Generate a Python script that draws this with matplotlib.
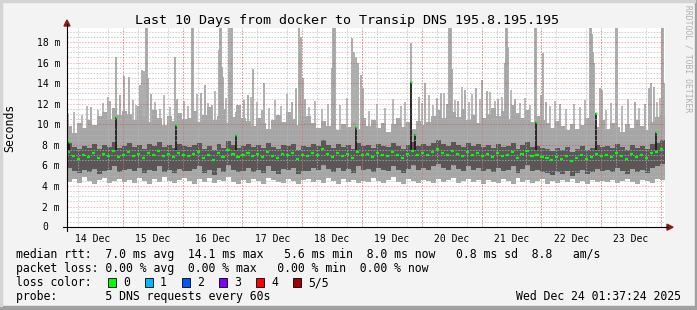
import numpy as np
import matplotlib
matplotlib.use("Agg")
import matplotlib.pyplot as plt
import matplotlib.dates as mdates
from matplotlib.patches import Rectangle, Polygon
from matplotlib.lines import Line2D

W, H = 697, 310
MONO = "DejaVu Sans Mono"

start = np.datetime64("2025-12-14T01:37:24")
end = np.datetime64("2025-12-24T01:37:24")

# smoke bands in ms, one value per 2 hours (12 per day)
lo = [4.4, 4.7, 4.3, 4.9, 4.5, 4.2, 4.6, 4.8, 4.3, 4.5, 4.7, 4.4,
      4.6, 4.3, 4.8, 4.5, 4.2, 4.7, 4.4, 4.9, 4.5, 4.3, 4.6, 4.8,
      4.5, 4.2, 4.7, 4.4, 4.8, 4.3, 4.6, 4.5, 4.9, 4.4, 4.2, 4.6,
      4.3, 4.7, 4.5, 4.2, 4.8, 4.6, 4.4, 4.3, 4.7, 4.5, 4.2, 4.6,
      4.7, 4.4, 4.6, 4.3, 4.8, 4.5, 4.2, 4.7, 4.4, 4.6, 4.3, 4.5,
      4.4, 4.8, 4.5, 4.3, 4.6, 4.9, 4.4, 4.2, 4.7, 4.5, 4.3, 4.6,
      4.5, 4.3, 4.7, 4.4, 4.6, 4.8, 4.3, 4.5, 4.7, 4.4, 4.6, 4.2,
      4.6, 4.4, 4.3, 4.7, 4.5, 4.2, 4.8, 4.4, 4.6, 4.3, 4.5, 4.7,
      4.2, 4.5, 4.3, 4.6, 4.4, 4.7, 4.3, 4.5, 4.2, 4.6, 4.4, 4.5,
      4.4, 4.6, 4.3, 4.5, 4.7, 4.4, 4.2, 4.6, 4.5, 4.3, 4.7, 4.6]
dark_lo = [5.8, 5.5, 5.3, 5.6, 5.4, 5.7, 5.2, 5.5, 5.6, 5.9, 5.4, 5.6,
           5.7, 5.5, 5.8, 5.3, 5.6, 5.5, 5.9, 5.4, 5.6, 5.3, 5.7, 5.5,
           5.5, 5.7, 5.9, 5.3, 5.6, 5.1, 5.8, 5.4, 6.0, 5.6, 5.4, 5.5,
           5.8, 5.4, 5.6, 5.3, 5.9, 5.5, 5.2, 5.7, 5.6, 5.8, 5.2, 5.5,
           5.5, 5.8, 5.6, 6.0, 5.7, 5.4, 5.8, 5.5, 5.7, 5.3, 5.9, 5.6,
           5.7, 5.4, 5.8, 5.6, 5.5, 5.9, 5.6, 5.3, 5.7, 6.0, 5.6, 5.8,
           5.6, 5.9, 6.1, 5.8, 5.6, 6.0, 5.7, 5.5, 5.9, 5.6, 5.8, 5.5,
           5.7, 5.4, 5.8, 5.5, 5.6, 5.9, 5.3, 5.7, 6.0, 5.5, 5.6, 5.4,
           5.3, 5.1, 5.4, 5.2, 5.5, 5.0, 5.3, 5.6, 5.2, 5.4, 5.7, 5.5,
           5.6, 5.4, 5.8, 5.5, 5.2, 5.7, 5.4, 5.6, 5.3, 5.8, 5.9, 6.1]
median = [7.3, 6.9, 6.6, 7.0, 6.8, 7.2, 6.7, 7.1, 6.9, 7.4, 6.8, 7.0,
          7.3, 6.9, 7.1, 6.7, 7.2, 7.0, 7.4, 6.9, 7.1, 6.8, 7.2, 7.0,
          6.9, 7.1, 7.3, 6.7, 7.0, 6.5, 7.2, 6.8, 7.5, 7.1, 6.8, 7.0,
          7.2, 6.9, 7.1, 6.8, 7.3, 6.9, 6.7, 7.1, 7.0, 7.2, 6.6, 7.0,
          6.9, 7.2, 7.0, 7.6, 7.1, 6.8, 7.2, 6.9, 7.1, 6.7, 7.3, 7.0,
          7.1, 6.8, 7.2, 7.0, 6.9, 7.3, 7.0, 6.7, 7.1, 7.4, 7.0, 7.2,
          7.0, 7.3, 7.6, 7.2, 7.0, 7.4, 7.1, 6.9, 7.3, 7.0, 7.2, 6.9,
          7.1, 6.8, 7.2, 6.9, 7.0, 7.3, 6.7, 7.1, 7.4, 6.9, 7.0, 6.8,
          6.7, 6.5, 6.8, 6.6, 6.9, 6.4, 6.7, 7.0, 6.6, 6.8, 7.1, 6.9,
          7.0, 6.8, 7.2, 6.9, 6.6, 7.1, 6.8, 7.0, 6.7, 7.2, 7.3, 7.6]
dark_hi = [8.2, 7.8, 7.6, 7.9, 7.7, 8.1, 7.6, 8.0, 7.8, 8.3, 7.7, 7.9,
           8.2, 7.8, 8.0, 7.6, 8.1, 7.9, 8.3, 7.8, 8.0, 7.7, 8.1, 7.9,
           7.8, 8.0, 8.2, 7.6, 7.9, 7.5, 8.1, 7.7, 8.4, 8.0, 7.7, 7.9,
           8.1, 7.8, 8.0, 7.7, 8.2, 7.8, 7.6, 8.0, 7.9, 8.1, 7.5, 7.9,
           7.8, 8.1, 7.9, 8.5, 8.0, 7.7, 8.1, 7.8, 8.0, 7.6, 8.2, 7.9,
           8.0, 7.7, 8.1, 7.9, 7.8, 8.2, 7.9, 7.6, 8.0, 8.3, 7.9, 8.1,
           7.9, 8.2, 8.5, 8.1, 7.9, 8.3, 8.0, 7.8, 8.2, 7.9, 8.1, 7.8,
           8.0, 7.7, 8.1, 7.8, 7.9, 8.2, 7.6, 8.0, 8.3, 7.8, 7.9, 7.7,
           7.6, 7.4, 7.7, 7.5, 7.8, 7.3, 7.6, 7.9, 7.5, 7.7, 8.0, 7.8,
           7.9, 7.7, 8.1, 7.8, 7.5, 8.0, 7.7, 7.9, 7.6, 8.1, 8.2, 8.5]
hi = [9.8, 9.2, 10.1, 9.6, 10.4, 9.9, 10.8, 11.2, 10.5, 11.6, 10.9, 11.3,
      11.0, 10.4, 11.8, 10.7, 10.2, 11.4, 10.6, 9.9, 10.8, 10.3, 11.1, 10.5,
      10.6, 11.3, 10.2, 10.9, 11.7, 10.4, 10.8, 11.5, 10.1, 10.7, 11.9, 10.6,
      10.3, 9.8, 10.6, 10.1, 9.5, 10.4, 10.9, 10.2, 11.2, 10.5, 9.9, 10.7,
      10.8, 10.1, 9.6, 10.3, 9.8, 10.5, 9.4, 10.0, 9.7, 10.2, 9.5, 10.6,
      9.8, 10.4, 9.6, 10.1, 9.3, 10.0, 10.6, 9.7, 10.2, 9.5, 10.3, 9.9,
      10.2, 10.8, 11.4, 10.6, 12.0, 11.2, 10.7, 11.5, 10.4, 10.9, 10.1, 10.6,
      11.0, 11.6, 10.8, 11.3, 10.5, 11.9, 11.1, 10.6, 11.4, 10.2, 10.8, 10.4,
      10.1, 9.6, 10.3, 9.8, 9.4, 10.0, 9.5, 9.9, 10.6, 10.2, 9.7, 10.4,
      9.5, 10.1, 9.7, 9.3, 10.0, 9.6, 10.4, 9.8, 9.4, 10.2, 10.7, 10.9]

# single tall smoke columns (days after start, top in ms)
spike_day = [0.017, 0.401, 0.686, 0.719, 0.819, 0.886, 0.953, 1.037, 1.221, 1.254,
             1.288, 1.321, 1.338, 1.355, 1.405, 1.806, 1.839, 2.090, 2.107, 2.241,
             2.308, 2.425, 2.542, 2.559, 2.575, 2.592, 2.609, 2.709, 2.726, 2.742,
             2.759, 2.826, 2.960, 3.027, 3.110, 3.261, 3.294, 3.763, 3.829, 3.880,
             3.896, 3.913, 3.946, 3.980, 4.431, 4.448, 4.465, 4.482, 4.766, 4.799,
             4.833, 4.866, 4.916, 4.950, 5.753, 5.886, 5.987, 6.187, 6.254, 6.388,
             6.405, 6.421, 6.438, 6.538, 6.656, 6.839, 6.940, 7.023, 7.207, 7.324,
             7.341, 7.358, 7.375, 7.492, 7.826, 7.843, 7.926, 7.960, 8.010, 8.244,
             8.746, 8.763, 8.779, 8.796, 8.813, 8.913, 8.946, 9.181, 9.197, 9.498,
             9.666, 9.732, 9.766, 9.816, 9.950, 9.967, 9.983]
spike_top = [11.1, 11.7, 12.7, 12.3, 16.5, 12.8, 14.7, 14.6, 13.8, 15.3,
             15.2, 19.4, 19.4, 14.5, 12.9, 16.5, 12.5, 19.4, 19.4, 13.0,
             13.8, 11.9, 17.2, 19.4, 19.4, 15.6, 14.6, 19.4, 15.1, 19.4,
             19.4, 11.2, 12.4, 12.8, 15.4, 11.4, 14.0, 12.2, 13.5, 19.4,
             17.0, 18.5, 14.5, 12.5, 15.5, 19.4, 19.4, 19.4, 18.4, 17.0,
             16.5, 16.0, 14.8, 13.5, 17.9, 12.7, 14.0, 12.6, 13.0, 19.4,
             19.4, 19.4, 15.4, 12.3, 13.3, 13.5, 14.3, 13.2, 12.5, 16.0,
             19.4, 19.4, 17.5, 12.5, 19.4, 19.4, 12.8, 16.9, 12.2, 12.0,
             19.4, 19.4, 18.8, 17.0, 16.0, 13.5, 13.3, 19.4, 19.4, 12.2,
             12.0, 13.5, 14.0, 13.6, 19.4, 19.4, 14.0]

# shorter smoke columns above the band
col_day = [0.12, 0.25, 0.33, 0.52, 0.60, 0.78, 1.10, 1.16, 1.47, 1.55, 1.63, 1.72,
           1.95, 2.02, 2.18, 2.36, 2.48, 2.66, 2.88, 3.08, 3.18, 3.38, 3.47, 3.58,
           3.68, 4.05, 4.15, 4.27, 4.36, 4.57, 4.68, 5.05, 5.18, 5.32, 5.45, 5.58,
           5.66, 5.93, 6.05, 6.12, 6.31, 6.48, 6.60, 6.72, 6.78, 6.90, 7.08, 7.15,
           7.28, 7.42, 7.58, 7.66, 7.74, 8.08, 8.16, 8.35, 8.47, 8.58, 8.66, 9.02,
           9.10, 9.28, 9.38, 9.57, 9.86, 9.91]
col_top = [11.2, 10.9, 11.8, 11.4, 12.1, 11.6, 12.4, 11.9, 12.2, 11.5, 12.8, 11.7,
           12.3, 11.8, 12.9, 12.1, 13.2, 12.6, 11.9, 12.7, 12.2, 11.6, 12.4, 11.8,
           12.9, 11.7, 12.3, 11.5, 12.0, 11.9, 12.6, 11.3, 12.0, 11.6, 12.5, 11.8,
           12.2, 12.1, 12.8, 11.9, 13.0, 12.4, 13.6, 12.2, 12.9, 12.5, 13.1, 12.3,
           12.7, 13.3, 12.1, 12.6, 11.9, 11.8, 12.3, 11.5, 12.0, 11.7, 12.4, 11.4,
           12.1, 11.8, 12.5, 11.6, 12.2, 12.6]

# dark columns where the median jumped up
dark_day = [0.033, 0.819, 1.823, 2.826, 4.833, 5.753, 5.819, 7.843, 8.846, 9.849]
dark_top = [8.3, 10.7, 9.9, 9.0, 9.7, 14.1, 9.1, 10.2, 11.1, 9.3]

y_major = [0, 2, 4, 6, 8, 10, 12, 14, 16, 18]
y_labels = ["", "2 m", "4 m", "6 m", "8 m", "10 m", "12 m", "14 m", "16 m", "18 m"]

loss_colors = ["#00ff00", "#00b8ff", "#0059ff", "#7e00ff", "#ff0000", "#a10000"]
loss_labels = ["0", "1", "2", "3", "4", "5/5"]

title = "Last 10 Days from docker to Transip DNS 195.8.195.195"
legend_lines = [
    "median rtt:  7.0 ms avg  14.1 ms max   5.6 ms min  8.0 ms now   0.8 ms sd  8.8   am/s",
    "packet loss: 0.00 % avg  0.00 % max   0.00 % min  0.00 % now",
    "loss color:",
    "probe:       5 DNS requests every 60s",
]
stamp = "Wed Dec 24 01:37:24 2025"


def fx(x):
    return x / W


def fy(y):
    return 1 - y / H


def edge(v):
    return np.append(v, v[-1])


def to_time(days):
    return start + (np.array(days) * 86400).astype("timedelta64[s]")


fig = plt.figure(figsize=(W / 100, H / 100), dpi=100)
fig.patch.set_facecolor("#f3f3f3")

x0, x1, ytop, y0 = 67, 665, 28, 227.2
ax = fig.add_axes([fx(x0), fy(y0), (x1 - x0) / W, (y0 - ytop) / H])
ax.set_facecolor("white")

t = start + np.arange(len(lo) + 1) * np.timedelta64(2, "h")

smoke = "#a6a6a6"
ax.fill_between(t, edge(lo), edge(hi), step="post", color=smoke, lw=0, zorder=1)
ax.vlines(to_time(col_day), 8, col_top, color=smoke, lw=1.1, zorder=1)
ax.vlines(to_time(spike_day), 8, spike_top, color=smoke, lw=1.3, zorder=1)
ax.fill_between(t, edge(dark_lo), edge(dark_hi), step="post", color="#585858", lw=0, zorder=1.2)
ax.vlines(to_time(dark_day), 7.5, dark_top, color="#1e1e1e", lw=1.3, zorder=1.3)

ax.hlines(median, t[:-1], t[:-1] + np.timedelta64(75, "m"), color="#00ff00", lw=1.6, zorder=3)
ax.plot(to_time(dark_day), dark_top, "s", ms=1.8, color="#00ff00", mec="none", zorder=3)

ax.set_xlim(start, end)
ax.set_ylim(0, 19.36)

# grid
ax.set_axisbelow(False)
noons = np.arange(np.datetime64("2025-12-14T12:00"), end, np.timedelta64(1, "D"))
ax.set_xticks(noons)
ax.xaxis.set_major_formatter(mdates.DateFormatter("%d %b"))
ax.xaxis.set_minor_locator(mdates.HourLocator(byhour=[0, 6, 12, 18]))
ax.set_yticks(y_major)
ax.set_yticklabels(y_labels)
ax.set_yticks(np.arange(0, 19.4, 0.5), minor=True)
ax.grid(which="minor", color="#b8b8b8", ls=(0, (1.5, 1.5)), lw=0.7, alpha=0.7, zorder=2.5)
ax.grid(which="major", axis="y", color="#ff0000", ls=(0, (1.5, 1.5)), lw=0.7, alpha=0.3, zorder=2.6)
ax.grid(which="major", axis="x", visible=False)
for d in mdates.DayLocator().tick_values(start.astype(object), end.astype(object)):
    ax.axvline(d, color="#ff0000", ls=(0, (1.5, 1.5)), lw=0.7, alpha=0.3, zorder=2.6)

ax.tick_params(which="both", length=0)
ax.tick_params(axis="x", pad=4.6, labelsize=7)
ax.tick_params(axis="y", pad=5.0, labelsize=7)
for lab in ax.get_xticklabels() + ax.get_yticklabels():
    lab.set_family(MONO)
ax.annotate("0", xy=(0, 0), xycoords=("axes fraction", "data"), xytext=(-19, 0),
            textcoords="offset pixels", ha="right", va="center", fontsize=7, family=MONO)
for s in ax.spines.values():
    s.set_visible(False)

# axis lines with arrows
arrow_c = "#8b1a1a"
fig.add_artist(Line2D([fx(63), fx(668)], [fy(y0), fy(y0)], color="black", lw=0.8))
fig.add_artist(Line2D([fx(x0), fx(x0)], [fy(231), fy(24)], color="black", lw=0.8))
fig.add_artist(Polygon([[fx(667), fy(y0 - 3)], [fx(667), fy(y0 + 3)], [fx(673), fy(y0)]],
                       closed=True, color=arrow_c, transform=fig.transFigure))
fig.add_artist(Polygon([[fx(x0 - 3), fy(26)], [fx(x0 + 3), fy(26)], [fx(x0), fy(20)]],
                       closed=True, color=arrow_c, transform=fig.transFigure))

# texts
fig.text(fx(347), fy(24), title, ha="center", va="baseline", fontsize=9.6, family=MONO)
fig.text(fx(10), fy(127.5), "Seconds", rotation=90, ha="center", va="center", fontsize=8.3, family=MONO)
fig.text(fx(688), fy(5), "RRDTOOL / TOBI OETIKER", rotation=270, ha="center", va="top",
         fontsize=5.8, family=MONO, color="#b0b0b0")

for i, line in enumerate(legend_lines):
    fig.text(fx(16), fy(258 + 14 * i), line, ha="left", va="baseline", fontsize=8.3, family=MONO)

for i, (c, lab) in enumerate(zip(loss_colors, loss_labels)):
    bx = 108 + 37 * i
    fig.add_artist(Rectangle((fx(bx), fy(287)), 8 / W, 9 / H, facecolor=c, edgecolor="black",
                             lw=0.6, transform=fig.transFigure))
    fig.text(fx(bx + 15), fy(286), lab, ha="left", va="baseline", fontsize=8.3, family=MONO)

fig.text(fx(681), fy(300), stamp, ha="right", va="baseline", fontsize=8.3, family=MONO)

# 3d frame
fig.add_artist(Rectangle((0, 0), 1, 4 / H, color="#a0a0a0", transform=fig.transFigure))
fig.add_artist(Rectangle((1 - 2 / W, 0), 2 / W, 1, color="#a0a0a0", transform=fig.transFigure))
fig.add_artist(Rectangle((0, 1 - 2 / H), 1 - 2 / W, 2 / H, color="#d4d4d4", transform=fig.transFigure))
fig.add_artist(Rectangle((0, 4 / H), 2 / W, 1, color="#d4d4d4", transform=fig.transFigure))

fig.savefig("out.png", dpi=100, facecolor=fig.get_facecolor())
